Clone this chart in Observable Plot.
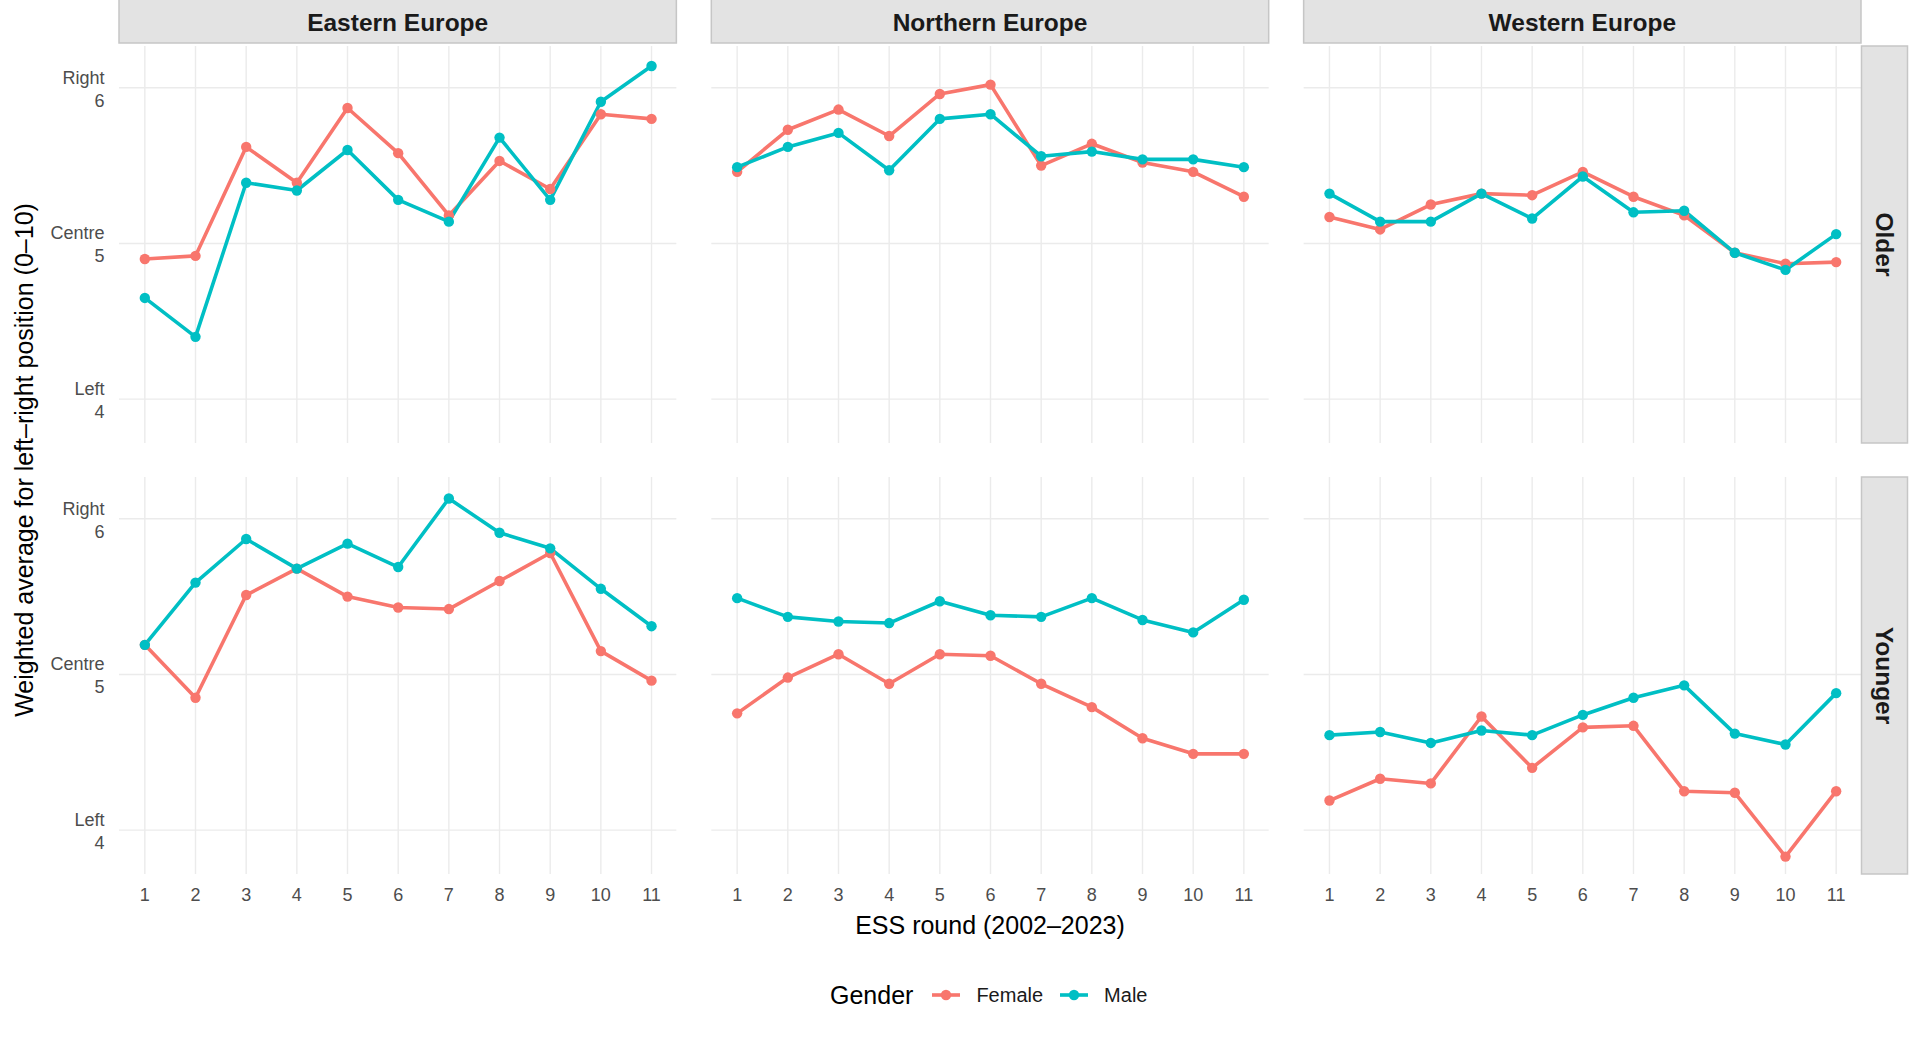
<!DOCTYPE html>
<html>
<head>
<meta charset="utf-8">
<script src="https://cdn.jsdelivr.net/npm/d3@7"></script>
<script src="https://cdn.jsdelivr.net/npm/@observablehq/plot@0.6"></script>
<style>
  html, body { margin: 0; padding: 0; background: #fff; }
  body { font-family: "Liberation Sans", Arial, sans-serif; }
  #wrap { position: relative; width: 1920px; height: 1039px; overflow: hidden; }
  #legend { position: absolute; left: 830px; top: 978px; height: 34px; display: flex; align-items: center; white-space: nowrap; }
  #legend .title { font-size: 25px; color: #000; margin-right: 19px; }
  #legend .item { display: flex; align-items: center; margin-right: 17px; }
  #legend .item span { font-size: 20px; color: #1a1a1a; margin-left: 16px; }
</style>
</head>
<body>
<div id="wrap">
  <div id="chart"></div>
  <div id="legend"></div>
</div>
<script>
// ---------- data ----------
const rounds = [1, 2, 3, 4, 5, 6, 7, 8, 9, 10, 11];
const regions = ["Eastern Europe", "Northern Europe", "Western Europe"];
const ageGroups = ["Older", "Younger"];
const genders = ["Female", "Male"];
const genderColors = ["#F8766D", "#00BFC4"];
const yTicks = [4, 5, 6];
const yTickNames = ["Left", "Centre", "Right"];

const eastOlderFemale   = [4.90, 4.92, 5.62, 5.39, 5.87, 5.58, 5.18, 5.53, 5.35, 5.83, 5.80];
const eastOlderMale     = [4.65, 4.40, 5.39, 5.34, 5.60, 5.28, 5.14, 5.68, 5.28, 5.91, 6.14];
const northOlderFemale  = [5.46, 5.73, 5.86, 5.69, 5.96, 6.02, 5.50, 5.64, 5.52, 5.46, 5.30];
const northOlderMale    = [5.49, 5.62, 5.71, 5.47, 5.80, 5.83, 5.56, 5.59, 5.54, 5.54, 5.49];
const westOlderFemale   = [5.17, 5.09, 5.25, 5.32, 5.31, 5.46, 5.30, 5.18, 4.94, 4.87, 4.88];
const westOlderMale     = [5.32, 5.14, 5.14, 5.32, 5.16, 5.43, 5.20, 5.21, 4.94, 4.83, 5.06];
const eastYoungerFemale = [5.19, 4.85, 5.51, 5.68, 5.50, 5.43, 5.42, 5.60, 5.78, 5.15, 4.96];
const eastYoungerMale   = [5.19, 5.59, 5.87, 5.68, 5.84, 5.69, 6.13, 5.91, 5.81, 5.55, 5.31];
const northYoungerFemale= [4.75, 4.98, 5.13, 4.94, 5.13, 5.12, 4.94, 4.79, 4.59, 4.49, 4.49];
const northYoungerMale  = [5.49, 5.37, 5.34, 5.33, 5.47, 5.38, 5.37, 5.49, 5.35, 5.27, 5.48];
const westYoungerFemale = [4.19, 4.33, 4.30, 4.73, 4.40, 4.66, 4.67, 4.25, 4.24, 3.83, 4.25];
const westYoungerMale   = [4.61, 4.63, 4.56, 4.64, 4.61, 4.74, 4.85, 4.93, 4.62, 4.55, 4.88];

const seriesList = [
  ["Eastern Europe", "Older", "Female", eastOlderFemale],
  ["Eastern Europe", "Older", "Male", eastOlderMale],
  ["Northern Europe", "Older", "Female", northOlderFemale],
  ["Northern Europe", "Older", "Male", northOlderMale],
  ["Western Europe", "Older", "Female", westOlderFemale],
  ["Western Europe", "Older", "Male", westOlderMale],
  ["Eastern Europe", "Younger", "Female", eastYoungerFemale],
  ["Eastern Europe", "Younger", "Male", eastYoungerMale],
  ["Northern Europe", "Younger", "Female", northYoungerFemale],
  ["Northern Europe", "Younger", "Male", northYoungerMale],
  ["Western Europe", "Younger", "Female", westYoungerFemale],
  ["Western Europe", "Younger", "Male", westYoungerMale]
];

const data = [];
for (const [region, age, gender, values] of seriesList) {
  values.forEach((v, i) => data.push({region, age, gender, round: rounds[i], value: v}));
}
const femaleData = data.filter(d => d.gender === "Female");
const maleData = data.filter(d => d.gender === "Male");

const W = 1920, H = 960;
const FONT = '"Liberation Sans", Arial, sans-serif';

const plot = Plot.plot({
  width: W,
  height: H,
  marginLeft: 119,
  marginRight: 59,
  marginTop: 46,
  marginBottom: 86,
  style: {fontFamily: FONT, background: "#fff", overflow: "visible"},
  fx: {domain: regions, paddingInner: 0.059, paddingOuter: 0, round: false, axis: null, label: null},
  fy: {domain: ageGroups, paddingInner: 0.0789, paddingOuter: 0, round: false, axis: null, label: null},
  x: {domain: [0.5, 11.5], label: null},
  y: {domain: [3.715, 6.265], label: null},
  color: {domain: genders, range: genderColors},
  marks: [
    Plot.gridX(rounds, {stroke: "#ebebeb", strokeOpacity: 1, strokeWidth: 1.4}),
    Plot.gridY(yTicks, {stroke: "#ebebeb", strokeOpacity: 1, strokeWidth: 1.4}),
    Plot.axisX({ticks: rounds, tickSize: 0, tickPadding: 14, fontSize: 18, color: "#4d4d4d", label: null}),
    Plot.axisY({
      ticks: yTicks, tickSize: 0, tickPadding: 15, fontSize: 18, color: "#4d4d4d", label: null,
      lineHeight: 1.28,
      tickFormat: d => yTickNames[yTicks.indexOf(d)] + "\n" + d
    }),
    Plot.line(femaleData, {x: "round", y: "value", stroke: "gender", z: "gender", fx: "region", fy: "age", strokeWidth: 3.6}),
    Plot.line(maleData, {x: "round", y: "value", stroke: "gender", z: "gender", fx: "region", fy: "age", strokeWidth: 3.6}),
    Plot.dot(femaleData, {x: "round", y: "value", fill: "gender", fx: "region", fy: "age", r: 5.2}),
    Plot.dot(maleData, {x: "round", y: "value", fill: "gender", fx: "region", fy: "age", r: 5.2})
  ]
});

document.getElementById("chart").appendChild(plot);

// ---------- strips and titles ----------
const svg = d3.select(plot);
const fxS = plot.scale("fx"), fyS = plot.scale("fy");
const bwX = fxS.bandwidth, bwY = fyS.bandwidth;
const stripG = svg.append("g").attr("class", "strips");

regions.forEach(r => {
  const x0 = fxS.apply(r);
  stripG.append("rect")
    .attr("x", x0).attr("y", -2).attr("width", bwX).attr("height", 45)
    .attr("fill", "#e3e3e3").attr("stroke", "#c6c6c6").attr("stroke-width", 1.5);
  stripG.append("text")
    .attr("x", x0 + bwX / 2).attr("y", 22)
    .attr("text-anchor", "middle").attr("dominant-baseline", "central")
    .attr("font-family", FONT).attr("font-size", 24.5).attr("font-weight", "bold").attr("fill", "#1a1a1a")
    .text(r);
});

const xRight = fxS.apply(regions[regions.length - 1]) + bwX;
ageGroups.forEach(a => {
  const y0 = fyS.apply(a);
  stripG.append("rect")
    .attr("x", xRight + 0.5).attr("y", y0).attr("width", 46).attr("height", bwY)
    .attr("fill", "#e3e3e3").attr("stroke", "#c6c6c6").attr("stroke-width", 1.5);
  const cx = xRight + 0.5 + 23, cy = y0 + bwY / 2;
  stripG.append("text")
    .attr("transform", `translate(${cx},${cy}) rotate(90)`)
    .attr("text-anchor", "middle").attr("dominant-baseline", "central")
    .attr("font-family", FONT).attr("font-size", 24.5).attr("font-weight", "bold").attr("fill", "#1a1a1a")
    .text(a);
});

const xLeft = fxS.apply(regions[0]);
svg.append("text")
  .attr("x", (xLeft + xRight) / 2).attr("y", 925)
  .attr("text-anchor", "middle").attr("dominant-baseline", "central")
  .attr("font-family", FONT).attr("font-size", 25).attr("fill", "#000")
  .text("ESS round (2002–2023)");

const yTop = fyS.apply(ageGroups[0]), yBot = fyS.apply(ageGroups[1]) + bwY;
svg.append("text")
  .attr("transform", `translate(24,${(yTop + yBot) / 2}) rotate(-90)`)
  .attr("text-anchor", "middle").attr("dominant-baseline", "central")
  .attr("font-family", FONT).attr("font-size", 25).attr("fill", "#000")
  .text("Weighted average for left–right position (0–10)");

// ---------- legend ----------
const legend = d3.select("#legend");
legend.append("div").attr("class", "title").text("Gender");
genders.forEach((g, i) => {
  const item = legend.append("div").attr("class", "item");
  const s = item.append("svg").attr("width", 28).attr("height", 20);
  s.append("line").attr("x1", 0).attr("x2", 28).attr("y1", 10).attr("y2", 10)
    .attr("stroke", genderColors[i]).attr("stroke-width", 3.6);
  s.append("circle").attr("cx", 14).attr("cy", 10).attr("r", 5.2).attr("fill", genderColors[i]);
  item.append("span").text(g);
});
</script>
</body>
</html>
